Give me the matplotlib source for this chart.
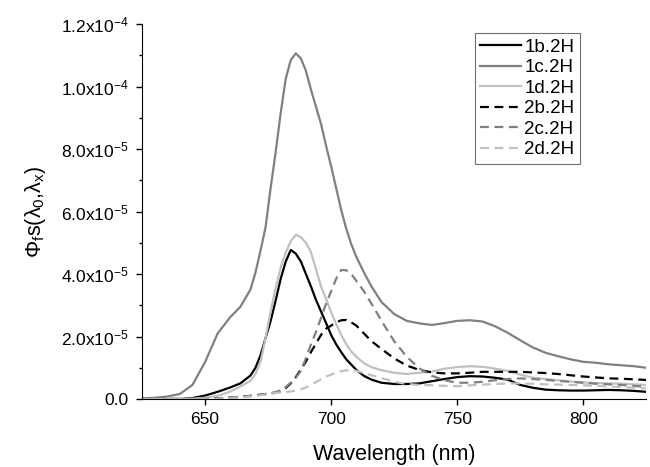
import matplotlib
matplotlib.use('Agg')
import matplotlib.pyplot as plt
from matplotlib.ticker import MultipleLocator, FuncFormatter

plt.rcParams['font.family'] = ['Liberation Sans', 'DejaVu Sans']
plt.rcParams['mathtext.fontset'] = 'custom'
plt.rcParams['mathtext.rm'] = 'Liberation Sans'
plt.rcParams['mathtext.it'] = 'Liberation Sans'
plt.rcParams['mathtext.bf'] = 'Liberation Sans:bold'

# Wavelength grid (nm)
wavelength = [625, 630, 635, 640, 645, 650, 655, 660, 664, 668, 670, 672, 674, 676, 678, 680,
              682, 684, 686, 688, 690, 692, 694, 696, 698, 700, 702, 704, 706, 708, 710, 713,
              716, 720, 725, 730, 735, 740, 745, 750, 755, 760, 765, 770, 775, 780, 785, 790,
              795, 800, 805, 810, 815, 820, 825]

# Values in units of 1e-5
s_1b = [0.0, 0.0, 0.0, 0.0, 0.03, 0.11, 0.23, 0.37, 0.5, 0.75, 1.0, 1.4, 1.95, 2.5, 3.15, 3.85,
        4.4, 4.77, 4.65, 4.4, 4.0, 3.6, 3.17, 2.8, 2.43, 2.05, 1.75, 1.5, 1.27, 1.1, 0.93, 0.74,
        0.62, 0.52, 0.48, 0.48, 0.5, 0.57, 0.64, 0.7, 0.73, 0.72, 0.68, 0.62, 0.45, 0.36, 0.3, 0.28,
        0.27, 0.27, 0.28, 0.29, 0.28, 0.26, 0.23]
s_1c = [0.02, 0.04, 0.08, 0.16, 0.45, 1.18, 2.1, 2.62, 2.95, 3.5, 4.05, 4.75, 5.5, 6.75, 7.9, 9.15,
        10.25, 10.85, 11.06, 10.9, 10.5, 9.9, 9.35, 8.8, 8.1, 7.45, 6.75, 6.05, 5.45, 4.95, 4.55, 4.05,
        3.6, 3.1, 2.72, 2.5, 2.42, 2.37, 2.43, 2.5, 2.52, 2.48, 2.33, 2.12, 1.88, 1.65, 1.48, 1.37,
        1.27, 1.19, 1.16, 1.11, 1.08, 1.05, 1.0]
s_1d = [0.0, 0.0, 0.0, 0.0, 0.01, 0.04, 0.1, 0.24, 0.4, 0.58, 0.8, 1.2, 1.95, 2.8, 3.55, 4.2,
        4.7, 5.05, 5.25, 5.18, 5.0, 4.7, 4.15, 3.6, 3.2, 2.78, 2.4, 2.05, 1.75, 1.52, 1.35, 1.15,
        1.02, 0.92, 0.84, 0.8, 0.84, 0.88, 0.97, 1.02, 1.05, 1.03, 0.97, 0.9, 0.78, 0.68, 0.64, 0.6,
        0.56, 0.53, 0.51, 0.5, 0.49, 0.47, 0.45]
s_2b = [0.0, 0.0, 0.0, 0.0, 0.0, 0.0, 0.02, 0.05, 0.07, 0.1, 0.12, 0.14, 0.16, 0.18, 0.2, 0.25,
        0.35, 0.5, 0.7, 0.95, 1.2, 1.5, 1.78, 2.05, 2.25, 2.35, 2.45, 2.52, 2.53, 2.45, 2.35, 2.1,
        1.85, 1.6, 1.3, 1.07, 0.93, 0.85, 0.82, 0.82, 0.84, 0.87, 0.87, 0.87, 0.87, 0.85, 0.83, 0.8,
        0.76, 0.72, 0.69, 0.66, 0.65, 0.63, 0.61]
s_2c = [0.0, 0.0, 0.0, 0.0, 0.0, 0.0, 0.02, 0.05, 0.07, 0.1, 0.12, 0.14, 0.16, 0.19, 0.22, 0.28,
        0.38, 0.52, 0.68, 0.9, 1.3, 1.75, 2.15, 2.6, 3.05, 3.45, 3.85, 4.13, 4.12, 4.0, 3.78, 3.45,
        3.05, 2.5, 1.85, 1.35, 0.98, 0.74, 0.6, 0.52, 0.52, 0.55, 0.6, 0.64, 0.66, 0.64, 0.61, 0.58,
        0.55, 0.52, 0.49, 0.47, 0.45, 0.42, 0.39]
s_2d = [0.0, 0.0, 0.0, 0.0, 0.0, 0.0, 0.01, 0.03, 0.05, 0.08, 0.1, 0.12, 0.14, 0.17, 0.19, 0.21,
        0.23, 0.24, 0.27, 0.31, 0.37, 0.45, 0.54, 0.63, 0.72, 0.78, 0.84, 0.89, 0.92, 0.93, 0.9, 0.83,
        0.76, 0.67, 0.55, 0.48, 0.45, 0.44, 0.42, 0.41, 0.44, 0.46, 0.48, 0.5, 0.5, 0.49, 0.47, 0.46,
        0.45, 0.44, 0.42, 0.4, 0.38, 0.36, 0.34]

series = [
    ('1b.2H', s_1b, '#000000', '-'),
    ('1c.2H', s_1c, '#808080', '-'),
    ('1d.2H', s_1d, '#c0c0c0', '-'),
    ('2b.2H', s_2b, '#000000', '--'),
    ('2c.2H', s_2c, '#808080', '--'),
    ('2d.2H', s_2d, '#c0c0c0', '--'),
]

fig = plt.figure(figsize=(6.5, 4.67), dpi=100)
ax = fig.add_axes([0.2185, 0.1456, 0.9943 - 0.2185, 0.9486 - 0.1456])

for label, vals, color, ls in series:
    line, = ax.plot(wavelength, [v * 1e-5 for v in vals], color=color, linestyle=ls,
                    linewidth=1.6, label=label)
    if ls == '--':
        line.set_dashes((4, 2.5))

ax.set_xlim(625, 825)
ax.set_ylim(0, 1.2e-4)

ax.spines['top'].set_visible(False)
ax.spines['right'].set_visible(False)

ax.xaxis.set_major_locator(MultipleLocator(50))
ax.yaxis.set_major_locator(MultipleLocator(2e-5))
ax.yaxis.set_minor_locator(MultipleLocator(1e-5))


def sci_fmt(v, pos):
    if abs(v) < 1e-12:
        return '0.0'
    exp = int(f'{v:e}'.split('e')[1])
    mant = v / 10 ** exp
    return f'{mant:.1f}x10$^{{{exp}}}$'


ax.yaxis.set_major_formatter(FuncFormatter(sci_fmt))
ax.tick_params(axis='both', which='major', direction='out', length=4.5, width=1, labelsize=12.5)
ax.tick_params(axis='y', which='major', pad=5)
ax.tick_params(axis='x', which='major', pad=5)
ax.tick_params(axis='y', which='minor', direction='out', length=2.5, width=1)

ax.set_xlabel('Wavelength (nm)', fontsize=15.5, labelpad=12)
ax.set_ylabel(r'$\Phi_f$s($\lambda_0$,$\lambda_x$)', fontsize=15.5, labelpad=9)

leg = ax.legend(loc='upper right', bbox_to_anchor=(0.8685, 0.976), borderaxespad=0,
                fancybox=False, framealpha=1, edgecolor='#707070', fontsize=13.5,
                handlelength=2.2, handletextpad=0.15, labelspacing=0.18, borderpad=0.3)
leg.get_frame().set_linewidth(0.8)

fig.savefig('out.png', dpi=100)
